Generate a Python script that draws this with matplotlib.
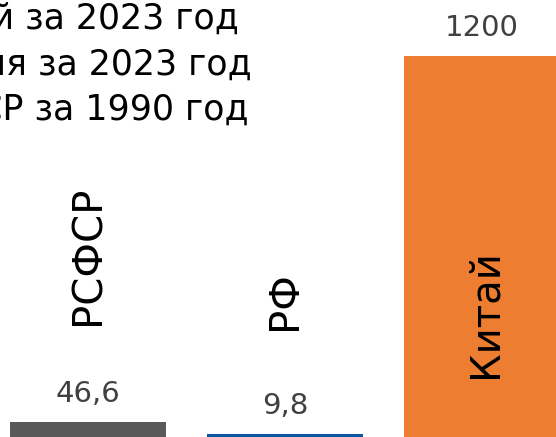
import numpy as np
import matplotlib.pyplot as plt
from matplotlib.patches import Patch
import matplotlib.transforms as mtransforms

plt.rcParams['font.family'] = ['DejaVu Sans']

regions = ["РСФСР", "РФ", "Китай"]
values = [46.6, 9.8, 1200]
value_labels = ["46,6", "9,8", "1200"]
legend_labels = ["РСФСР за 1990 год", "Россия за 2023 год", "Китай за 2023 год"]
colors = ["#595959", "#0B57A3", "#ED7D31"]

fig = plt.figure(figsize=(5.56, 4.37), dpi=100)
ax = fig.add_axes([0, 0, 1, 1])

x = np.arange(len(regions))
bars = ax.bar(x, values, width=0.79, color=colors)

ax.set_xlim(-0.447, 2.376)
ax.set_ylim(0, 1376)
ax.axis("off")

# value labels above bars
for xi, v, lab in zip(x, values, value_labels):
    ax.annotate(lab, (xi, v), xytext=(0, 10), textcoords="offset points",
                ha="center", va="bottom", fontsize=21, color="#404040")

# vertical category names
trans = mtransforms.blended_transform_factory(ax.transData, ax.transAxes)
name_y = [0.256, 0.245, 0.135]
name_dx = [0, 0, 0.02]
for xi, name, ny, dx in zip(x, regions, name_y, name_dx):
    ax.text(xi + dx, ny, name, rotation=90, ha="center", va="bottom",
            fontsize=29, color="black", transform=trans)

handles = [Patch(color=c) for c in colors[::-1]]
ax.legend(handles, legend_labels[::-1], loc="upper left",
          bbox_to_anchor=(-0.268, 0.995), frameon=False, fontsize=25,
          borderpad=0, borderaxespad=0, handlelength=1, handletextpad=0.5,
          labelspacing=0.33)

fig.savefig("out.png", dpi=100)
